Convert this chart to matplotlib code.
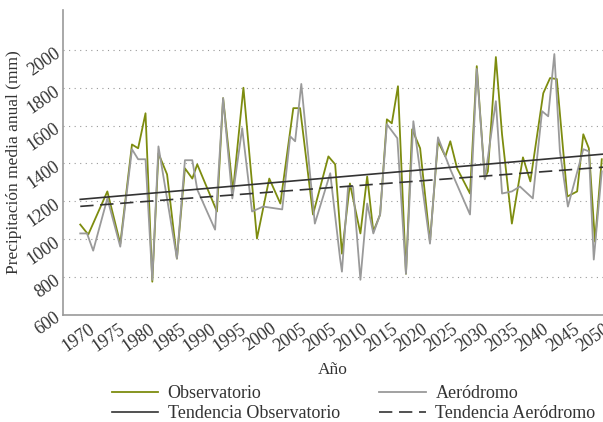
import matplotlib
matplotlib.use("Agg")
import matplotlib.pyplot as plt
import numpy as np

obs_years = [1968.7, 1970.0, 1973.1, 1975.2, 1977.1, 1978.1, 1979.3, 1980.4, 1981.4, 1982.8,
             1984.4, 1985.7, 1986.9, 1987.7, 1990.9, 1991.9, 1993.5, 1995.2, 1997.4, 1999.4,
             2001.2, 2003.3, 2004.4, 2006.5, 2009.0, 2010.1, 2011.2, 2012.5, 2014.2, 2015.3,
             2016.3, 2017.4, 2018.5, 2019.3, 2020.3, 2021.6, 2022.6, 2023.9, 2025.5, 2026.8,
             2028.0, 2028.8, 2029.9, 2032.0, 2033.1, 2034.4, 2034.9, 2036.2, 2037.2, 2038.8,
             2040.6, 2041.8, 2043.9, 2045.0, 2046.1, 2047.8, 2049.4, 2050.4, 2051.3, 2052.3,
             2053.4]
obs_vals = [1077, 1024, 1252, 976, 1500, 1480, 1665, 775, 1453, 1342,
            897, 1374, 1320, 1395, 1146, 1745, 1252, 1800, 1003, 1320,
            1188, 1692, 1692, 1130, 1437, 1395, 923, 1294, 1030, 1331,
            1040, 1130, 1633, 1612, 1808, 817, 1580, 1480, 987, 1517,
            1437, 1517, 1374, 1241, 1914, 1320, 1358, 1962, 1554, 1082,
            1432, 1305, 1771, 1851, 1846, 1225, 1252, 1554, 1480, 987,
            1422]

aero_years = [1968.7, 1969.8, 1970.8, 1973.1, 1975.2, 1977.1, 1978.1, 1979.3, 1980.4, 1981.4,
              1984.4, 1985.7, 1986.9, 1987.7, 1990.6, 1991.9, 1993.4, 1995.0, 1996.6, 1998.4,
              2001.5, 2002.8, 2003.6, 2004.6, 2006.8, 2009.3, 2010.9, 2011.2, 2012.2, 2013.0,
              2014.2, 2015.3, 2016.3, 2017.4, 2018.5, 2020.2, 2021.6, 2022.8, 2025.5, 2026.8,
              2028.8, 2032.0, 2033.1, 2034.4, 2036.2, 2037.2, 2038.8, 2040.1, 2042.2, 2043.7,
              2044.7, 2045.7, 2046.6, 2047.9, 2050.4, 2051.3, 2052.1, 2053.4]
aero_vals = [1030, 1030, 939, 1215, 960, 1475, 1422, 1422, 785, 1490,
             897, 1417, 1417, 1262, 1050, 1745, 1215, 1586, 1146, 1172,
             1157, 1543, 1517, 1820, 1082, 1348, 897, 828, 1278, 1278,
             785, 1188, 1030, 1130, 1607, 1533, 817, 1623, 976, 1538,
             1369, 1130, 1899, 1316, 1729, 1241, 1252, 1278, 1215, 1676,
             1649, 1978, 1464, 1172, 1475, 1464, 892, 1358]

trend_years = [1968.7, 2053.6]
trend_obs = [1210, 1449]
trend_aero = [1173, 1380]

tick_labels = ["1970", "1975", "1980", "1985", "1990", "1995", "2000", "2005", "2005",
               "2010", "2015", "2020", "2025", "2030", "2035", "2040", "2045", "2050"]
y_ticks = [600, 800, 1000, 1200, 1400, 1600, 1800, 2000]

SERIF = ["Liberation Serif", "DejaVu Serif"]
plt.rcParams["font.family"] = SERIF
plt.rcParams["font.size"] = 12.5

fig = plt.figure(figsize=(6.03, 4.22), dpi=100)
ax = fig.add_axes([0.1045, 0.254, 0.8955, 0.722])

l1, = ax.plot(obs_years, obs_vals, color="#7d8c0f", lw=1.3, label="Observatorio")
l2, = ax.plot(aero_years, aero_vals, color="#9a9a9a", lw=1.3, label="Aeródromo")
l3, = ax.plot(trend_years, trend_obs, color="#333333", lw=1.2, label="Tendencia Observatorio")
l4, = ax.plot(trend_years, trend_aero, color="#333333", lw=1.2, ls=(0, (8, 4)),
              label="Tendencia Aeródromo")

ax.set_xlim(1965.9, 2053.6)
ax.set_ylim(600, 2210)
ax.set_xticks(np.linspace(1970, 2053.6, len(tick_labels)))
ax.set_xticklabels(tick_labels, rotation=35, ha="right", rotation_mode="anchor",
                   family=SERIF, fontsize=13)
ax.set_yticks(y_ticks)
ax.set_yticklabels([str(v) for v in y_ticks], rotation=35, ha="right",
                   rotation_mode="anchor", family=SERIF, fontsize=13)
ax.tick_params(length=0, pad=4, colors="#333333")
ax.grid(axis="y", ls=(0, (1, 4)), color="#999999", lw=0.8)
for s in ["top", "right"]:
    ax.spines[s].set_visible(False)
for s in ["left", "bottom"]:
    ax.spines[s].set_color("#999999")
    ax.spines[s].set_linewidth(1.2)

ax.set_xlabel("Año", labelpad=5, family=SERIF, color="#333333")
ax.set_ylabel("Precipitación media anual (mm)", family=SERIF, color="#333333", labelpad=2)

leg = fig.legend([l1, l3, l2, l4], [h.get_label() for h in [l1, l3, l2, l4]],
                 loc="upper left", bbox_to_anchor=(0.185, 0.087), ncol=2, frameon=False,
                 columnspacing=2.2, handlelength=2.6, handletextpad=0.5,
                 labelspacing=0.15, borderaxespad=0, borderpad=0,
                 prop={"family": SERIF, "size": 13})
for t in leg.get_texts():
    t.set_color("#333333")

fig.savefig("out.png", dpi=100)
